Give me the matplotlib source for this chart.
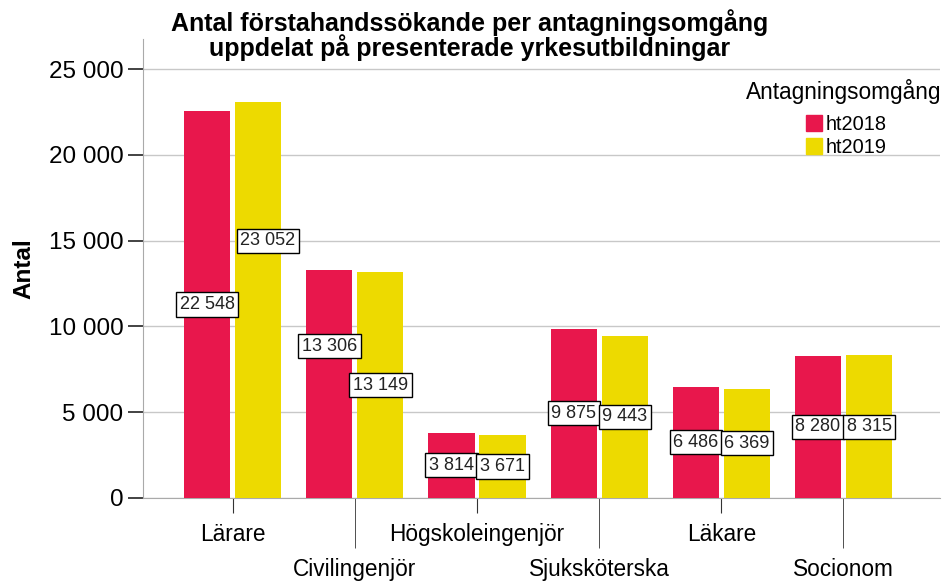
import matplotlib
matplotlib.use("Agg")
import matplotlib.pyplot as plt
from matplotlib.ticker import FuncFormatter
from matplotlib.patches import Patch
import numpy as np

categories = ["Lärare", "Civilingenjör", "Högskoleingenjör", "Sjuksköterska", "Läkare", "Socionom"]
series_names = ["ht2018", "ht2019"]
ht2018 = [22548, 13306, 3814, 9875, 6486, 8280]
ht2019 = [23052, 13149, 3671, 9443, 6369, 8315]
colors = ["#E8174C", "#EDDA00"]

# label vertical placement (fraction of bar height), as in the reference
label_frac_2018 = [0.5, 0.665, 0.5, 0.5, 0.5, 0.5]
label_frac_2019 = [0.65, 0.5, 0.5, 0.5, 0.5, 0.5]
label_dx_2019 = [0.08, 0, 0, 0, 0, 0]

plt.rcParams['font.family'] = ['Liberation Sans', 'DejaVu Sans']

fig = plt.figure(figsize=(9.44, 5.82), dpi=100)
ax = fig.add_axes([143/944, 1-498/582, (940-143)/944, (498-39)/582])

x = np.arange(len(categories))
w = 0.378
off = 0.209
b1 = ax.bar(x - off, ht2018, w, color=colors[0], label=series_names[0], zorder=3)
b2 = ax.bar(x + off, ht2019, w, color=colors[1], label=series_names[1], zorder=3)

fmt = lambda v: f"{int(v):,}".replace(",", " ")
for bars, vals, fr, dxs in ((b1, ht2018, label_frac_2018, [0]*6),
                            (b2, ht2019, label_frac_2019, label_dx_2019)):
    for rect, v, f, dx in zip(bars, vals, fr, dxs):
        ax.text(rect.get_x() + rect.get_width()/2 + dx, v*f, fmt(v), ha='center', va='center',
                fontsize=13, color='#222222', zorder=5,
                bbox=dict(boxstyle='square,pad=0.2', fc='white', ec='black', lw=1))

ax.set_xlim(-0.734, 5.79)
ax.set_ylim(0, 26750)
ax.set_yticks(range(0, 25001, 5000))
ax.yaxis.set_major_formatter(FuncFormatter(lambda v, p: fmt(v)))
ax.grid(axis='y', color='#C8C8C8', lw=1, zorder=0)
for s in ['top', 'right']:
    ax.spines[s].set_visible(False)
ax.spines['bottom'].set_color('#AAAAAA')
ax.spines['left'].set_color('#AAAAAA')
ax.tick_params(axis='y', labelsize=17.5, length=10.5, width=1.2, color='#222222', pad=3.5)

ax.set_xticks(x[::2])
ax.set_xticklabels(categories[::2])
ax.set_xticks(x[1::2], minor=True)
ax.set_xticklabels(categories[1::2], minor=True)
ax.tick_params(axis='x', which='major', length=11, labelsize=16.3, color='#333333', pad=6.8)
ax.tick_params(axis='x', which='minor', length=36, labelsize=16.3, color='#333333', pad=6.9)

ax.set_ylabel("Antal", fontsize=17.5, fontweight='bold', labelpad=10)

fig.text(0.497, 0.985, "Antal förstahandssökande per antagningsomgång\nuppdelat på presenterade yrkesutbildningar",
         ha='center', va='top', fontsize=18, fontweight='bold', linespacing=0.95)

fig.text(844/944, 1-92/582, "Antagningsomgång", ha='center', va='center', fontsize=16.3)
handles = [Patch(color=c, label=n) for c, n in zip(colors, series_names)]
fig.legend(handles=handles, loc='upper left', bbox_to_anchor=(806/944, 1-115/582),
           bbox_transform=fig.transFigure, frameon=False, fontsize=14.4,
           handlelength=0.8, handleheight=0.8, handletextpad=0.2, labelspacing=0.2,
           borderpad=0, borderaxespad=0)

fig.savefig("out.png", dpi=100)
